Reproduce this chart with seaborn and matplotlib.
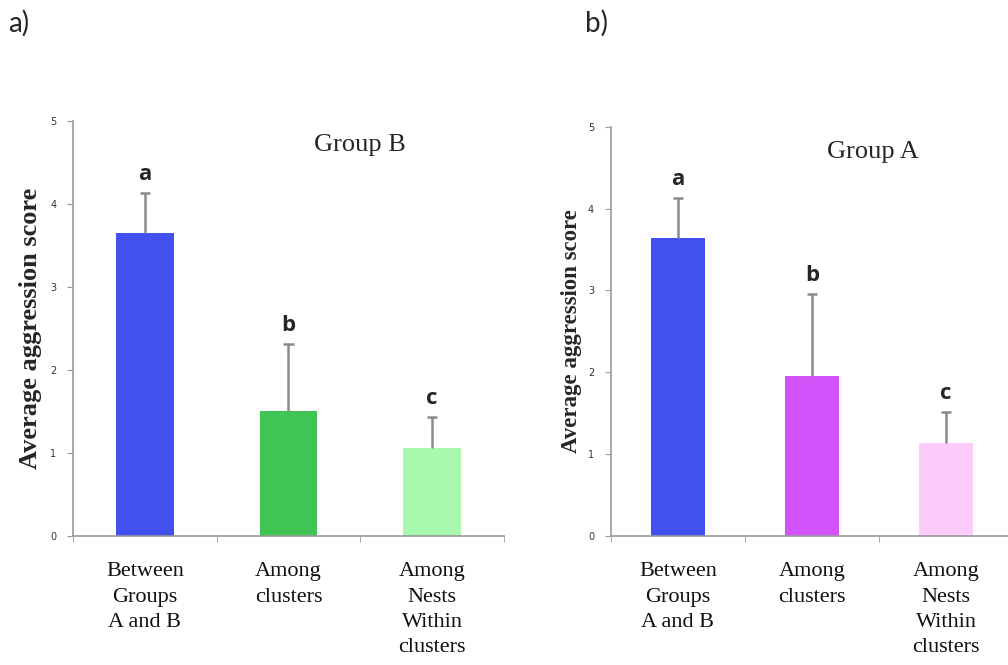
import pandas as pd
import seaborn as sns
import matplotlib.pyplot as plt

categories = ["Between\nGroups\nA and B", "Among\nclusters", "Among\nNests\nWithin\nclusters"]
letters = ["a", "b", "c"]

group_b_mean = [3.65, 1.51, 1.06]
group_b_err = [0.48, 0.80, 0.37]
group_b_colors = ["#4250F0", "#40C555", "#A8F8B0"]

group_a_mean = [3.64, 1.95, 1.14]
group_a_err = [0.49, 1.00, 0.37]
group_a_colors = ["#4250F0", "#D452FA", "#FCCBFA"]

y_ticks = [0, 1, 2, 3, 4, 5]

sns.set_style("ticks")
plt.rcParams['font.family'] = ['Liberation Serif', 'DejaVu Serif']

fig = plt.figure(figsize=(10.08, 6.65), dpi=100)
ax1 = fig.add_axes([0.0724, 0.194, 0.4276, 0.624])
ax2 = fig.add_axes([0.606, 0.194, 0.399, 0.6155])


def draw_panel(ax, means, errs, colors, title, title_xy, ylab_size):
    df = pd.DataFrame({"cat": categories, "val": means})
    sns.barplot(data=df, x="cat", y="val", hue="cat", palette=colors, saturation=1,
                width=0.4, errorbar=None, legend=False, linewidth=0, ax=ax, zorder=2)
    xs = list(range(len(means)))
    tops = [m + e for m, e in zip(means, errs)]
    # one-sided error bars: stem from bar top up, cap only at the top
    ax.vlines(xs, means, tops, color="#8a8a8a", lw=1.8, zorder=3)
    ax.hlines(tops, [x - 0.035 for x in xs], [x + 0.035 for x in xs],
              color="#8a8a8a", lw=1.8, zorder=3)
    for x, t, l in zip(xs, tops, letters):
        ax.text(x, t + 0.1, l, ha="center", va="bottom",
                fontsize=16, fontweight="bold", family=["Open Sans", "DejaVu Sans"])
    ax.set_xlim(-0.5, 2.5)
    ax.set_ylim(0, 5)
    ax.set_yticks(y_ticks)
    ax.set_yticklabels([str(v) for v in y_ticks], fontsize=7, color="#333333",
                       family=["DejaVu Sans"])
    ax.set_xticks(xs)
    ax.set_xticklabels(categories, fontsize=16, linespacing=1.45, color="#111111")
    ax.set_xticks([-0.5, 0.5, 1.5, 2.5], minor=True)
    ax.tick_params(axis="x", which="major", length=0, pad=19)
    ax.tick_params(axis="x", which="minor", length=4, color="#999999", direction="out")
    ax.tick_params(axis="y", length=4, color="#999999", pad=8)
    ax.set_xlabel("")
    ax.set_ylabel("Average aggression score", fontsize=ylab_size, fontweight="bold")
    ax.yaxis.set_label_coords(-0.072, 0.5)
    ax.text(title_xy[0], title_xy[1], title, transform=ax.transAxes,
            ha="center", va="center", fontsize=19)
    sns.despine(ax=ax)
    for s in ["left", "bottom"]:
        ax.spines[s].set_color("#999999")
        ax.spines[s].set_linewidth(1.2)


draw_panel(ax1, group_b_mean, group_b_err, group_b_colors, "Group B", (0.666, 0.942), 19)
draw_panel(ax2, group_a_mean, group_a_err, group_a_colors, "Group A", (0.652, 0.939), 16.5)

fig.text(0.008, 0.965, "a)", fontsize=20, va="center", ha="left", family=["Lato", "DejaVu Sans"])
fig.text(0.580, 0.965, "b)", fontsize=20, va="center", ha="left", family=["Lato", "DejaVu Sans"])

fig.savefig("out.png", dpi=100)
